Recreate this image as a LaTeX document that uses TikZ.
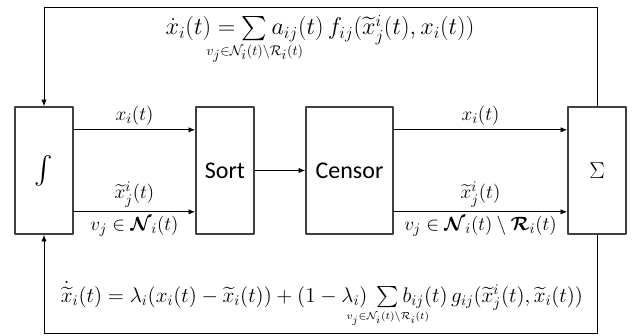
\documentclass[tikz,border=0pt]{standalone}
\usepackage{graphicx}
\usepackage{amsmath,mathtools}
\usepackage[no-math]{fontspec}
\setmainfont{Carlito}
\usetikzlibrary{arrows.meta}

\tikzset{
  block/.style={draw=black!75, line width=1.2pt, minimum width=43.5pt,
    minimum height=95.25pt, inner sep=0pt, font=\fontsize{18}{20}\selectfont},
  flow/.style={line width=0.6pt, -{Latex[length=5pt,width=4pt]}},
  lbl/.style={font=\fontsize{15}{17}\selectfont, inner sep=1pt},
  eqn/.style={font=\fontsize{14.4}{17}\selectfont, inner sep=0pt, anchor=base}
}
\newcommand{\limset}{\mathclap{\scriptscriptstyle v_j \in \mathcal{N}_i(t) \setminus \mathcal{R}_i(t)}}

\begin{document}
\begin{tikzpicture}[x=0.75pt, y=-0.75pt, line join=round]

    \useasboundingbox (0,0) rectangle (634,335);

    % Blocchi
    \node[block] (integ) at (44,170.5) {\fontsize{22}{24}\selectfont$\int$};
    \node[block] (sort) at (225,170.5) {Sort};
    \node[block, minimum width=65.25pt] (censor) at (349.5,170.5) {Censor};
    \node[block] (summ) at (597,170.5) {$\Sigma$};

    % Angoli del ciclo di retroazione
    \coordinate (tl) at (44,7);
    \coordinate (tr) at (597,7);
    \coordinate (bl) at (44,333);
    \coordinate (br) at (597,333);

    % Anello superiore e inferiore
    \draw[flow] (summ.north) -- (tr) -- (tl) -- (integ.north);
    \draw[flow] (summ.south) -- (br) -- (bl) -- (integ.south);

    % Collegamenti tra i blocchi
    \draw[flow] ([yshift=30.5pt]integ.east) -- node[lbl, above=2pt] (xa) {$x_i(t)$} ([yshift=30.5pt]sort.west);
    \draw[flow] ([yshift=-31pt]integ.east) -- node[lbl, above=2pt] (xb) {$\widetilde{x}^i_j(t)$}
        node[lbl, below=2pt] (na) {$v_j \in \boldsymbol{\mathcal{N}}_i(t)$} ([yshift=-31pt]sort.west);
    \draw[flow] (sort) -- (censor);
    \draw[flow] ([yshift=30.5pt]censor.east) -- node[lbl, above=2pt] (xc) {$x_i(t)$} ([yshift=30.5pt]summ.west);
    \draw[flow] ([yshift=-31pt]censor.east) -- node[lbl, above=2pt] (xd) {$\widetilde{x}^i_j(t)$}
        node[lbl, below=2pt] (nb) {$v_j \in \boldsymbol{\mathcal{N}}_i(t) \setminus \boldsymbol{\mathcal{R}}_i(t)$} ([yshift=-31pt]summ.west);

    % Equazioni
    \node[eqn, font=\fontsize{17.28}{20}\selectfont] (fa) at (320,35)
        {\scalebox{1.05}{$\dot{x}_i(t) = \sum\limits_{\limset} a_{ij}(t)\, f_{ij}(\widetilde{x}^i_j(t), x_i(t))$}};
    \node[eqn] (fb) at (322,302)
        {\scalebox{1.1}{$\dot{\widetilde{x}}_i(t) = \lambda_i(x_i(t) - \widetilde{x}_i(t)) + (1-\lambda_i)
        \;\sum\limits_{\limset} b_{ij}(t)\, g_{ij}(\widetilde{x}^i_j(t), \widetilde{x}_i(t))$}};

\end{tikzpicture}
\end{document}
